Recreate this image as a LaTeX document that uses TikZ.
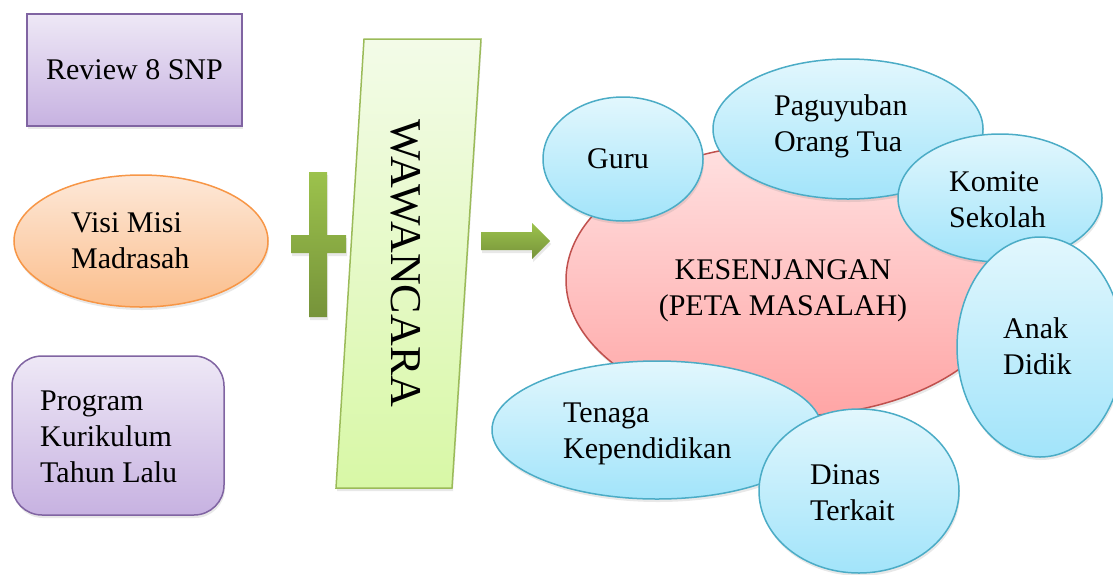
\documentclass[tikz,border=0pt]{standalone}
\usepackage{fontspec}
\setmainfont{Liberation Serif}
\usetikzlibrary{shapes.geometric,shadows}
\definecolor{pborder}{HTML}{8064A2}
\definecolor{ptop}{HTML}{EEE8F6}
\definecolor{pbot}{HTML}{C7B2E1}
\definecolor{oborder}{HTML}{F79646}
\definecolor{otop}{HTML}{FDE8D8}
\definecolor{obot}{HTML}{FBBE8C}
\definecolor{gborder}{HTML}{9BBB59}
\definecolor{gtop}{HTML}{F3FBE8}
\definecolor{gbot}{HTML}{D8F8A6}
\definecolor{gdtop}{HTML}{9CC24C}
\definecolor{gdbot}{HTML}{76933A}
\definecolor{bborder}{HTML}{4BACC6}
\definecolor{btop}{HTML}{E2F7FD}
\definecolor{bbot}{HTML}{A2E4FA}
\definecolor{rborder}{HTML}{C0504D}
\definecolor{rtop}{HTML}{FFE1E1}
\definecolor{rbot}{HTML}{FFA5A5}
\tikzset{
  shad/.style={drop shadow={opacity=0.18, shadow xshift=1pt, shadow yshift=-3pt}},
  lab/.style={font=\fontsize{30}{36}\selectfont, inner sep=0pt, align=left, anchor=base west, text=black},
  purplebox/.style={rectangle, draw=pborder, line width=1.5pt, top color=ptop, bottom color=pbot, inner sep=0pt, shad},
  blueell/.style={ellipse, draw=bborder, line width=1.5pt, top color=btop, bottom color=bbot, inner sep=0pt, shad},
}
\begin{document}
\begin{tikzpicture}[x=1pt,y=-1pt]
\useasboundingbox (0,0) rectangle (1113,574);
\clip (0,0) rectangle (1113,574);
% left column (multi-line labels are placed at the baseline of their last line)
\node[purplebox, minimum width=215pt, minimum height=112pt, font=\fontsize{30}{36}\selectfont] (review) at (134.5,70) {Review 8 SNP};
\node[ellipse, draw=oborder, line width=1.5pt, top color=otop, bottom color=obot, inner sep=0pt, shad, minimum width=254pt, minimum height=132pt] (visi) at (141,241) {};
\node[lab] (visitext) at (71,268) {Visi Misi\\Madrasah};
\node[purplebox, rounded corners=30pt, minimum width=212pt, minimum height=159pt] (prog) at (118,435.5) {};
\node[lab] (progtext) at (40,482) {Program\\Kurikulum\\Tahun Lalu};
% plus sign
\path[top color=gdtop, bottom color=gdbot, shad]
  (309,172) -- (327,172) -- (327,235) -- (346,235) -- (346,253) -- (327,253)
  -- (327,317) -- (309,317) -- (309,253) -- (291,253) -- (291,235) -- (309,235) -- cycle;
% wawancara
\path[draw=gborder, line width=1.5pt, top color=gtop, bottom color=gbot, shad]
  (364,39) -- (481,39) -- (452,488) -- (336,488) -- cycle;
\node[font=\fontsize{44}{50}\selectfont, rotate=-90, inner sep=0pt] (waw) at (406,263.5) {WAWANCARA};
% arrow
\path[top color=gdtop, bottom color=gdbot, shad]
  (481,232) -- (532,232) -- (532,223) -- (550,241) -- (532,259) -- (532,250) -- (481,250) -- cycle;
% right cluster
\node[ellipse, draw=rborder, line width=1.5pt, top color=rtop, bottom color=rbot, inner sep=0pt, shad, minimum width=448pt, minimum height=272pt] (gap) at (790,280) {};
\node[lab, align=center, anchor=base] (gaptext) at (783,315) {KESENJANGAN\\(PETA MASALAH)};
\node[blueell, minimum width=160pt, minimum height=124pt] (guru) at (623,159) {};
\node[lab] (gurutext) at (587,168) {Guru};
\node[blueell, minimum width=270pt, minimum height=140pt] (pag) at (848,129) {};
\node[lab] (pagtext) at (774,151) {Paguyuban\\Orang Tua};
\node[blueell, minimum width=204pt, minimum height=128pt] (kom) at (1000,198) {};
\node[lab] (komtext) at (949,227) {Komite\\Sekolah};
\node[blueell, minimum width=166pt, minimum height=220pt] (anak) at (1040,347) {};
\node[lab] (anaktext) at (1003,374) {Anak\\Didik};
\node[blueell, minimum width=330pt, minimum height=138pt] (ten) at (657,430) {};
\node[lab] (tentext) at (563,458) {Tenaga\\Kependidikan};
\node[blueell, minimum width=200pt, minimum height=164pt] (din) at (859,491) {};
\node[lab] (dintext) at (810,520) {Dinas\\Terkait};
\end{tikzpicture}
\end{document}
